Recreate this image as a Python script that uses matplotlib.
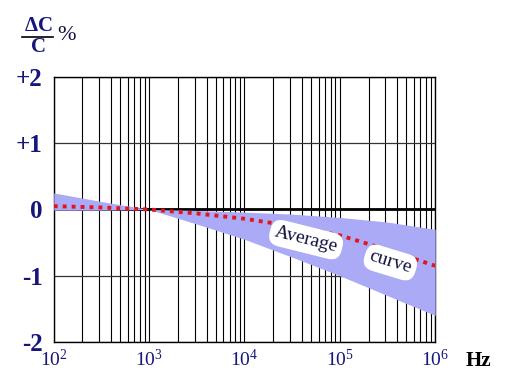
# Capacitance change vs frequency, with tolerance band and average curve.

import matplotlib
matplotlib.use('Agg')
import matplotlib.pyplot as plt
from matplotlib.lines import Line2D

plt.rcParams['font.family'] = 'Liberation Serif'
plt.rcParams['mathtext.fontset'] = 'custom'
plt.rcParams['mathtext.rm'] = 'Liberation Serif:bold'
plt.rcParams['mathtext.bf'] = 'Liberation Serif:bold'

# Data (frequency in Hz, change in %).
freq = [1e2, 10**2.5, 1e3, 10**3.5, 1e4, 10**4.5, 1e5, 10**5.5, 1e6]
band_upper = [0.25, 0.12, 0.0, -0.015, -0.04, -0.07, -0.12, -0.19, -0.30]
band_lower = [-0.01, -0.01, 0.0, -0.22, -0.45, -0.72, -1.0, -1.3, -1.6]
average = [0.05, 0.03, 0.0, -0.06, -0.14, -0.25, -0.39, -0.61, -0.85]

y_ticks = [-2, -1, 0, 1, 2]
y_labels = ['-2', '-1', '0', '+1', '+2']
x_ticks = [1e2, 1e3, 1e4, 1e5, 1e6]
x_labels = [r'$\mathregular{10^{2}}$', r'$\mathregular{10^{3}}$', r'$\mathregular{10^{4}}$',
            r'$\mathregular{10^{5}}$', r'$\mathregular{10^{6}}$']

navy = '#16167a'
band_color = '#aaaaf6'
red = '#e3141c'

fig = plt.figure(figsize=(5.12, 3.88), dpi=100)
ax = fig.add_axes([0.105, 0.1186, 0.745, 0.683])

ax.set_xscale('log')
ax.set_xlim(1e2, 1e6)
ax.set_ylim(-2, 2)

# Grid (major and minor vertical lines, horizontal at each unit).
ax.grid(True, which='both', axis='x', color='black', linewidth=0.8, zorder=1)
ax.grid(True, which='major', axis='y', color='#333333', linewidth=0.9, zorder=1)
ax.axhline(0, color='black', linewidth=2.0, zorder=2)

# Tolerance band and average curve.
ax.fill_between(freq, band_lower, band_upper, color=band_color, linewidth=0, zorder=3)
ax.plot(freq, average, color=red, linewidth=2.8, dashes=(1, 1.3), zorder=4)

box = dict(boxstyle='round,pad=0.25,rounding_size=0.6', fc='white', ec='none')
ax.text(10**4.646, -0.455, 'Average', rotation=-14, fontsize=14, color='#101040',
        ha='center', va='center', zorder=5, bbox=box)
ax.text(10**5.53, -0.80, 'curve', rotation=-17, fontsize=14, color='#101040',
        ha='center', va='center', zorder=5, bbox=box)

ax.set_yticks(y_ticks)
ax.set_yticklabels(y_labels, fontsize=18, color=navy, fontweight='bold')
ax.set_xticks(x_ticks)
ax.set_xticklabels(x_labels, fontsize=14, color=navy)
ax.tick_params(which='both', length=0)
ax.tick_params(axis='y', pad=8)
ax.tick_params(axis='x', pad=5)
for s in ax.spines.values():
    s.set_linewidth(1.0)

# Axis units.
fig.text(478 / 512, 1 - 361 / 388, 'Hz', fontsize=15, fontweight='bold',
         ha='center', va='center')
fig.text(38 / 512, 1 - 26 / 388, r'$\mathbf{\Delta}$C', fontsize=15, fontweight='bold',
         color=navy, ha='center', va='center')
fig.text(39 / 512, 1 - 47 / 388, 'C', fontsize=15, fontweight='bold',
         color=navy, ha='center', va='center')
fig.add_artist(Line2D([22 / 512, 53 / 512], [1 - 37 / 388, 1 - 37 / 388],
                      color='black', linewidth=1.2))
fig.text(67 / 512, 1 - 35 / 388, '%', fontsize=16, color='#101040',
         ha='center', va='center')

fig.savefig('out.png', dpi=100)
